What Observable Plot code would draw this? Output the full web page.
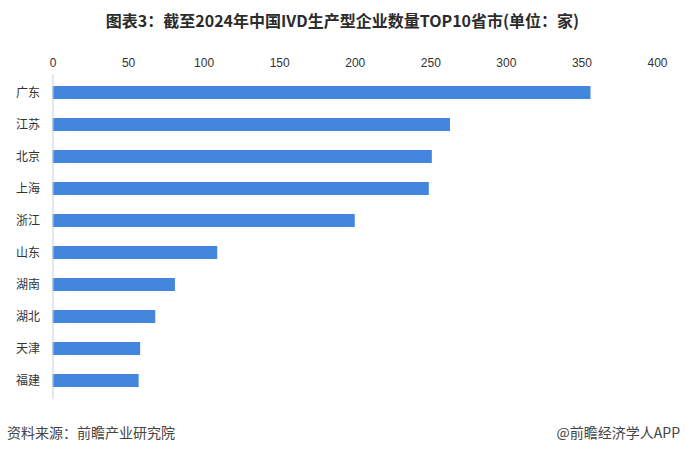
<!DOCTYPE html>
<html><head><meta charset="utf-8">
<script src="https://cdn.jsdelivr.net/npm/d3@7"></script>
<script src="https://cdn.jsdelivr.net/npm/@observablehq/plot@0.6"></script>
<style>
body{margin:0;background:#fff;font-family:"Noto Sans CJK SC","Noto Sans",sans-serif;}
#wrap{width:685px;height:452px;position:relative;overflow:hidden;background:#fff}
#title{height:54px;box-sizing:border-box;padding-top:10px;line-height:20px;font-size:16px;font-weight:bold;text-align:center;color:#2b2b2b;white-space:nowrap}
#chart{height:352px}
#chart svg{display:block}
#foot{height:46px;box-sizing:border-box;padding:18px 5px 0 7px;line-height:16px;font-size:14px;color:#444;display:flex;justify-content:space-between;white-space:nowrap}
</style></head>
<body>
<div id="wrap">
<div id="title">图表3：截至2024年中国IVD生产型企业数量TOP10省市(单位：家)</div>
<div id="chart"></div>
<div id="foot"><span>资料来源：前瞻产业研究院</span><span>@前瞻经济学人APP</span></div>
</div>
<script>
const provinces = ["广东","江苏","北京","上海","浙江","山东","湖南","湖北","天津","福建"];
const counts = [356, 263, 251, 249, 200, 109, 81, 68, 58, 57];
const xTicks = [0, 50, 100, 150, 200, 250, 300, 350, 400];

const data = provinces.map((p, i) => ({province: p, count: counts[i]}));

const chart = Plot.plot({
  width: 685,
  height: 352,
  marginTop: 20.25,
  marginBottom: 6.75,
  marginLeft: 52.5,
  marginRight: 28,
  style: {fontFamily: '"Liberation Sans", "Noto Sans CJK SC", sans-serif', color: "#333", background: "transparent"},
  x: {domain: [0, 400], axis: null, label: null},
  y: {domain: provinces, paddingInner: 0.585, paddingOuter: 0.2925, axis: null, label: null},
  marks: [
    Plot.axisX({anchor: "top", ticks: xTicks, tickSize: 0, tickPadding: 8, fontSize: 12, label: null, tickFormat: d => String(d)}),
    Plot.axisY({anchor: "left", tickSize: 0, tickPadding: 13, fontSize: 12, label: null}),
    Plot.barX(data, {x: "count", y: "province", fill: "#4286DE"}),
    Plot.ruleX([0], {stroke: "#cfcfcf", strokeWidth: 1})
  ]
});
document.getElementById("chart").appendChild(chart);
</script>
</body></html>
